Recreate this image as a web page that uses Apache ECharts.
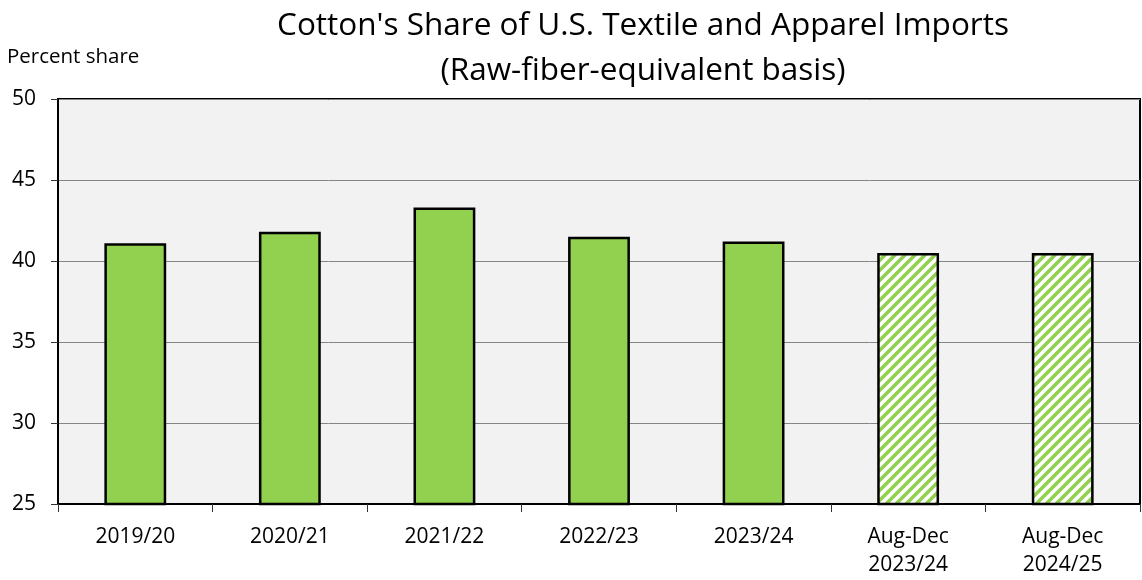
<!DOCTYPE html>
<html>
<head>
<meta charset="utf-8">
<script src="https://cdn.jsdelivr.net/npm/echarts@6/dist/echarts.min.js"></script>
<style>
  html, body { margin: 0; padding: 0; background: #ffffff; }
  #chart { width: 1142px; height: 580px; }
</style>
</head>
<body>
<div id="chart"></div>
<script>
// Marketing years shown on the category axis
const categories = ['2019/20', '2020/21', '2021/22', '2022/23', '2023/24', 'Aug-Dec\n2023/24', 'Aug-Dec\n2024/25'];
// Cotton's share of imports, percent
const shareValues = [41.1, 41.8, 43.3, 41.5, 41.2, 40.5, 40.5];
// Partial-year bars are drawn hatched
const partialYear = [false, false, false, false, false, true, true];
const yTicks = [25, 30, 35, 40, 45, 50];

const GREEN = '#92d050';

// Diagonal green-on-white hatch for the partial-year bars
function makeHatch() {
  const s = 10;
  const c = document.createElement('canvas');
  c.width = s; c.height = s;
  const g = c.getContext('2d');
  g.fillStyle = '#ffffff';
  g.fillRect(0, 0, s, s);
  g.strokeStyle = GREEN;
  g.lineWidth = 3.6;
  g.beginPath();
  g.moveTo(-2, s + 2); g.lineTo(s + 2, -2);
  g.moveTo(-2, 2); g.lineTo(2, -2);
  g.moveTo(s - 2, s + 2); g.lineTo(s + 2, s - 2);
  g.stroke();
  return c;
}
const hatch = makeHatch();

const chart = echarts.init(document.getElementById('chart'), null, { renderer: 'canvas' });
const FONT = "'Open Sans', 'Liberation Sans', sans-serif";

chart.setOption({
  animation: false,
  textStyle: { fontFamily: FONT },
  title: {
    text: "Cotton's Share of U.S. Textile and Apparel Imports\n(Raw-fiber-equivalent basis)",
    left: 638,
    top: -1,
    textAlign: 'center',
    textStyle: { fontFamily: FONT, fontSize: 31.5, fontWeight: 'normal', color: '#000', lineHeight: 45 }
  },
  graphic: [{
    type: 'text',
    left: 7,
    top: 47,
    style: { text: 'Percent share', font: "20.5px 'Open Sans', sans-serif", fill: '#000' }
  }],
  grid: {
    left: 58, right: 2, top: 99, bottom: 76,
    show: true,
    backgroundColor: '#f2f2f2',
    borderColor: '#000',
    borderWidth: 2
  },
  xAxis: {
    type: 'category',
    data: categories,
    boundaryGap: true,
    axisLine: { lineStyle: { color: '#000', width: 2 } },
    axisTick: { show: true, alignWithLabel: false, length: 8, lineStyle: { color: '#333', width: 1 } },
    axisLabel: { color: '#000', fontSize: 21, margin: 19, lineHeight: 28, fontFamily: FONT }
  },
  yAxis: {
    type: 'value',
    min: yTicks[0],
    max: yTicks[yTicks.length - 1],
    interval: 5,
    axisLine: { show: true, lineStyle: { color: '#000', width: 2 } },
    axisTick: { show: true, length: 7, lineStyle: { color: '#333', width: 1 } },
    axisLabel: { color: '#000', fontSize: 21, margin: 22, fontFamily: FONT },
    splitLine: { lineStyle: { color: '#868686', width: 1 } }
  },
  series: [{
    type: 'bar',
    barWidth: '40%',
    data: shareValues.map((v, i) => ({
      value: v,
      itemStyle: {
        color: partialYear[i] ? { image: hatch, repeat: 'repeat' } : GREEN,
        borderColor: '#000',
        borderWidth: 2.5
      }
    }))
  }]
});
</script>
</body>
</html>
